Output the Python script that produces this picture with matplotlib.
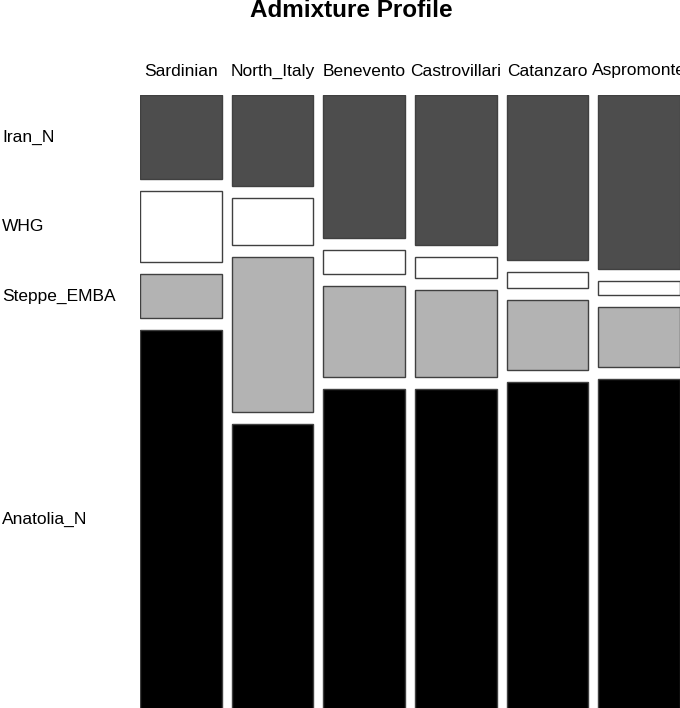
import numpy as np
import matplotlib
matplotlib.use("Agg")
import matplotlib.pyplot as plt
from matplotlib.transforms import blended_transform_factory

plt.rcParams['font.family'] = ['Liberation Sans', 'DejaVu Sans']

# -----------------------------
# DATA (proportions, percent)
# -----------------------------
populations = ["Sardinian", "North_Italy", "Benevento", "Castrovillari", "Catanzaro", "Aspromonte"]
components = ["Iran_N", "WHG", "Steppe_EMBA", "Anatolia_N"]

iran_n = [14.6, 15.8, 24.8, 26.0, 28.6, 30.1]
whg = [12.2, 8.0, 4.0, 3.6, 2.7, 2.4]
steppe_emba = [7.6, 26.9, 15.9, 15.1, 12.1, 10.4]
anatolia_n = [65.6, 49.3, 55.3, 55.3, 56.6, 57.1]

colors = ["#4d4d4d", "#ffffff", "#b3b3b3", "#000000"]

# -----------------------------
# LAYOUT (mosaic style)
# -----------------------------
W, H = 680, 708
fig = plt.figure(figsize=(W / 100, H / 100), dpi=100)
ax = fig.add_axes([140 / W, 0, 540 / W, 613 / H])

xgap = 0.124   # gap between columns, in column widths
ygap = 0.0208  # gap between rows, as fraction of column height

series = [iran_n, whg, steppe_emba, anatolia_n]
n = len(populations)
xs = np.arange(n) * (1 + xgap)

# stack from bottom: Anatolia_N first, Iran_N on top
fracs = np.array(series) / np.array(series).sum(axis=0)
bottoms = np.zeros(n)
centers_first = {}
for k in range(len(components) - 1, -1, -1):
    ax.bar(xs, fracs[k], width=1, bottom=bottoms, align='edge',
           color=colors[k], edgecolor="#404040", linewidth=1.0)
    centers_first[components[k]] = bottoms[0] + fracs[k][0] / 2
    bottoms = bottoms + fracs[k] + ygap

ax.set_xlim(0, n + (n - 1) * xgap)
ax.set_ylim(0.002, 1 + 3 * ygap)
ax.axis('off')

# column labels
trans_x = blended_transform_factory(ax.transData, fig.transFigure)
for i, pop in enumerate(populations):
    ax.text(xs[i] + 0.5, 1 - 71 / H, pop, transform=trans_x, ha='center', va='center',
            fontsize=12.5, clip_on=False)

# row labels (aligned with first column)
trans_y = blended_transform_factory(fig.transFigure, ax.transData)
for comp in components:
    ax.text(2 / W, centers_first[comp], comp, transform=trans_y, ha='left', va='center',
            fontsize=12.5, clip_on=False)

fig.text(351 / W, 1 - 17 / H, "Admixture Profile", ha='center', va='baseline',
         fontsize=17.5, fontweight='bold')

fig.savefig("out.png", dpi=100, facecolor='white')
